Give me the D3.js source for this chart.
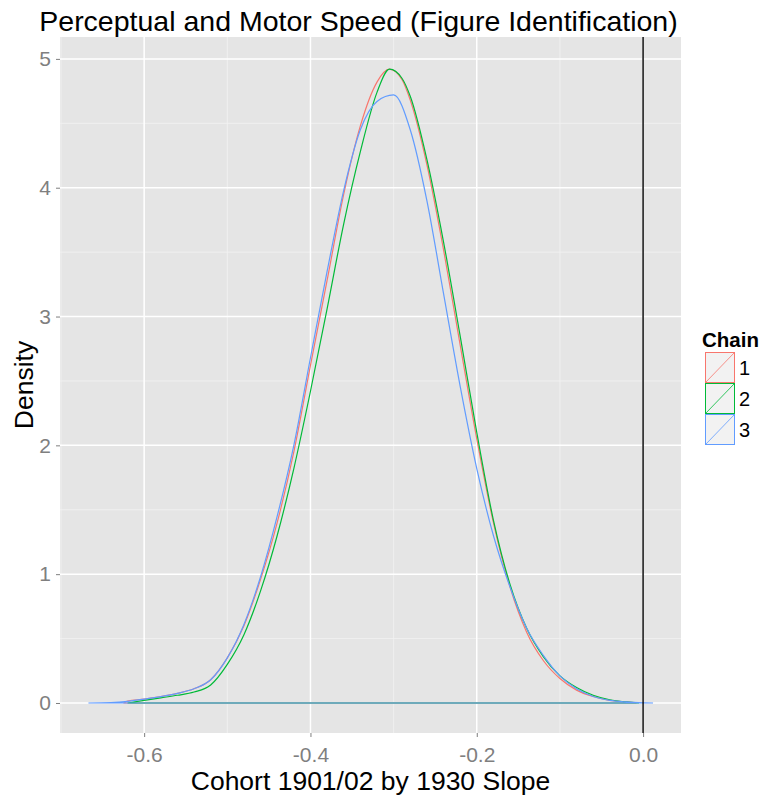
<!DOCTYPE html>
<html><head><meta charset="utf-8">
<script src="https://cdn.jsdelivr.net/npm/d3@7/dist/d3.min.js"></script>
<style>body{margin:0;background:#fff;} text{font-family:"Liberation Sans",Arial,sans-serif;}</style>
</head><body><svg id="c" width="771" height="802"></svg>
<script>
const chains = ["1","2","3"];
const colors = ["#F8766D","#00BA38","#619CFF"];
const xTicks = [-0.6,-0.4,-0.2,0.0];
const xMinor = [-0.7,-0.5,-0.3,-0.1];
const yTicks = [0,1,2,3,4,5];
const yMinor = [0.5,1.5,2.5,3.5,4.5];
const title = "Perceptual and Motor Speed (Figure Identification)";
const xLabel = "Cohort 1901/02 by 1930 Slope";
const yLabel = "Density";
// density curves
const chain1X = [-0.625,-0.62,-0.60,-0.58,-0.56,-0.54,-0.52,-0.50,-0.48,-0.46,-0.44,-0.42,-0.40,-0.38,-0.36,-0.34,-0.32,-0.305,-0.29,-0.28,-0.26,-0.24,-0.22,-0.20,-0.18,-0.16,-0.14,-0.12,-0.10,-0.08,-0.06,-0.04,-0.02,-0.008];
const chain1Y = [0,0.015,0.03,0.05,0.075,0.11,0.18,0.35,0.60,0.96,1.40,1.95,2.62,3.28,3.95,4.48,4.82,4.92,4.84,4.68,4.18,3.52,2.78,2.05,1.40,0.90,0.55,0.33,0.19,0.10,0.05,0.02,0.008,0];
const chain2X = [-0.62,-0.60,-0.58,-0.56,-0.54,-0.52,-0.50,-0.48,-0.46,-0.44,-0.42,-0.40,-0.38,-0.36,-0.34,-0.32,-0.305,-0.29,-0.28,-0.26,-0.24,-0.22,-0.20,-0.18,-0.16,-0.14,-0.12,-0.10,-0.08,-0.06,-0.04,-0.02,-0.005];
const chain2Y = [0,0.02,0.04,0.06,0.085,0.14,0.30,0.53,0.87,1.30,1.82,2.42,3.06,3.72,4.28,4.74,4.92,4.85,4.71,4.22,3.58,2.85,2.10,1.42,0.92,0.58,0.36,0.21,0.12,0.06,0.025,0.008,0];
const chain3X = [-0.667,-0.64,-0.62,-0.60,-0.58,-0.56,-0.54,-0.52,-0.50,-0.48,-0.46,-0.44,-0.42,-0.40,-0.38,-0.36,-0.34,-0.32,-0.30,-0.28,-0.26,-0.24,-0.22,-0.20,-0.18,-0.16,-0.14,-0.12,-0.10,-0.08,-0.06,-0.04,-0.02,0.0,0.012];
const chain3Y = [0,0.003,0.012,0.03,0.05,0.075,0.11,0.18,0.35,0.61,0.98,1.45,2.00,2.68,3.35,3.98,4.45,4.67,4.72,4.45,3.90,3.18,2.46,1.82,1.30,0.90,0.58,0.37,0.21,0.11,0.05,0.02,0.008,0.002,0];
const series = [[chain1X,chain1Y],[chain2X,chain2Y],[chain3X,chain3Y]];

const svg = d3.select("#c");
const L=60,R=681,T=37,B=733;
const x = d3.scaleLinear().domain([-0.7012,0.0456]).range([L,R]);
const y = d3.scaleLinear().domain([-0.233,5.17]).range([B,T]);

svg.append("rect").attr("x",L).attr("y",T).attr("width",R-L).attr("height",B-T).attr("fill","#E5E5E5");
const g = svg.append("g");
xMinor.forEach(v=>{ if(x(v)>=L && x(v)<=R) g.append("line").attr("x1",x(v)).attr("x2",x(v)).attr("y1",T).attr("y2",B).attr("stroke","#F2F2F2").attr("stroke-width",0.8);});
yMinor.forEach(v=>g.append("line").attr("x1",L).attr("x2",R).attr("y1",y(v)).attr("y2",y(v)).attr("stroke","#F2F2F2").attr("stroke-width",0.8));
xTicks.forEach(v=>g.append("line").attr("x1",x(v)).attr("x2",x(v)).attr("y1",T).attr("y2",B).attr("stroke","#fff").attr("stroke-width",1.5));
yTicks.forEach(v=>g.append("line").attr("x1",L).attr("x2",R).attr("y1",y(v)).attr("y2",y(v)).attr("stroke","#fff").attr("stroke-width",1.5));

const curve = d3.line().x(d=>x(d[0])).y(d=>y(d[1])).curve(d3.curveMonotoneX);
series.forEach((s,i)=>{
  const pts = s[0].map((v,j)=>[v,s[1][j]]);
  const p = curve(pts) + `L${x(s[0][0])},${y(0)}`;
  svg.append("path").attr("d",p).attr("fill","none").attr("stroke",colors[i]).attr("stroke-width",1.2);
});
svg.append("line").attr("x1",x(0)).attr("x2",x(0)).attr("y1",T).attr("y2",B).attr("stroke","#000").attr("stroke-width",1.4);

// axes
const xa = svg.append("g").attr("transform",`translate(0,${B})`).call(d3.axisBottom(x).tickValues(xTicks).tickSize(4).tickSizeOuter(0));
xa.select(".domain").remove();
xa.selectAll("line").attr("stroke","#7F7F7F");
xa.selectAll("text").attr("fill","#7F7F7F").style("font-size","21px").attr("y",29).attr("dy",null).text(d=>d3.format(".1f")(d).replace("\u2212","-"));
const ya = svg.append("g").attr("transform",`translate(${L},0)`).call(d3.axisLeft(y).tickValues(yTicks).tickFormat(d3.format("d")).tickSize(4).tickSizeOuter(0));
ya.select(".domain").remove();
ya.selectAll("line").attr("stroke","#7F7F7F");
ya.selectAll("text").attr("fill","#7F7F7F").style("font-size","21px").attr("x",-9);

svg.append("text").attr("x",(L+R)/2-12).attr("y",31).attr("text-anchor","middle").style("font-size","28.5px").text(title);
svg.append("text").attr("x",(L+R)/2).attr("y",790).attr("text-anchor","middle").style("font-size","26.5px").text(xLabel);
svg.append("text").attr("transform",`translate(33,${(T+B)/2}) rotate(-90)`).attr("text-anchor","middle").style("font-size","26.5px").text(yLabel);

// legend
svg.append("text").attr("x",702).attr("y",347).style("font-size","20.5px").style("font-weight","bold").text("Chain");
chains.forEach((c,i)=>{
  const ky = 352 + i*31;
  svg.append("rect").attr("x",705.5).attr("y",ky+0.5).attr("width",29).attr("height",30).attr("fill","#F2F2F2").attr("stroke",colors[i]).attr("stroke-width",1);
  svg.append("line").attr("x1",706).attr("y1",ky+30).attr("x2",734).attr("y2",ky+1).attr("stroke",colors[i]).attr("stroke-width",0.8);
  svg.append("text").attr("x",739).attr("y",ky+23).style("font-size","20px").text(c);
});
</script></body></html>
